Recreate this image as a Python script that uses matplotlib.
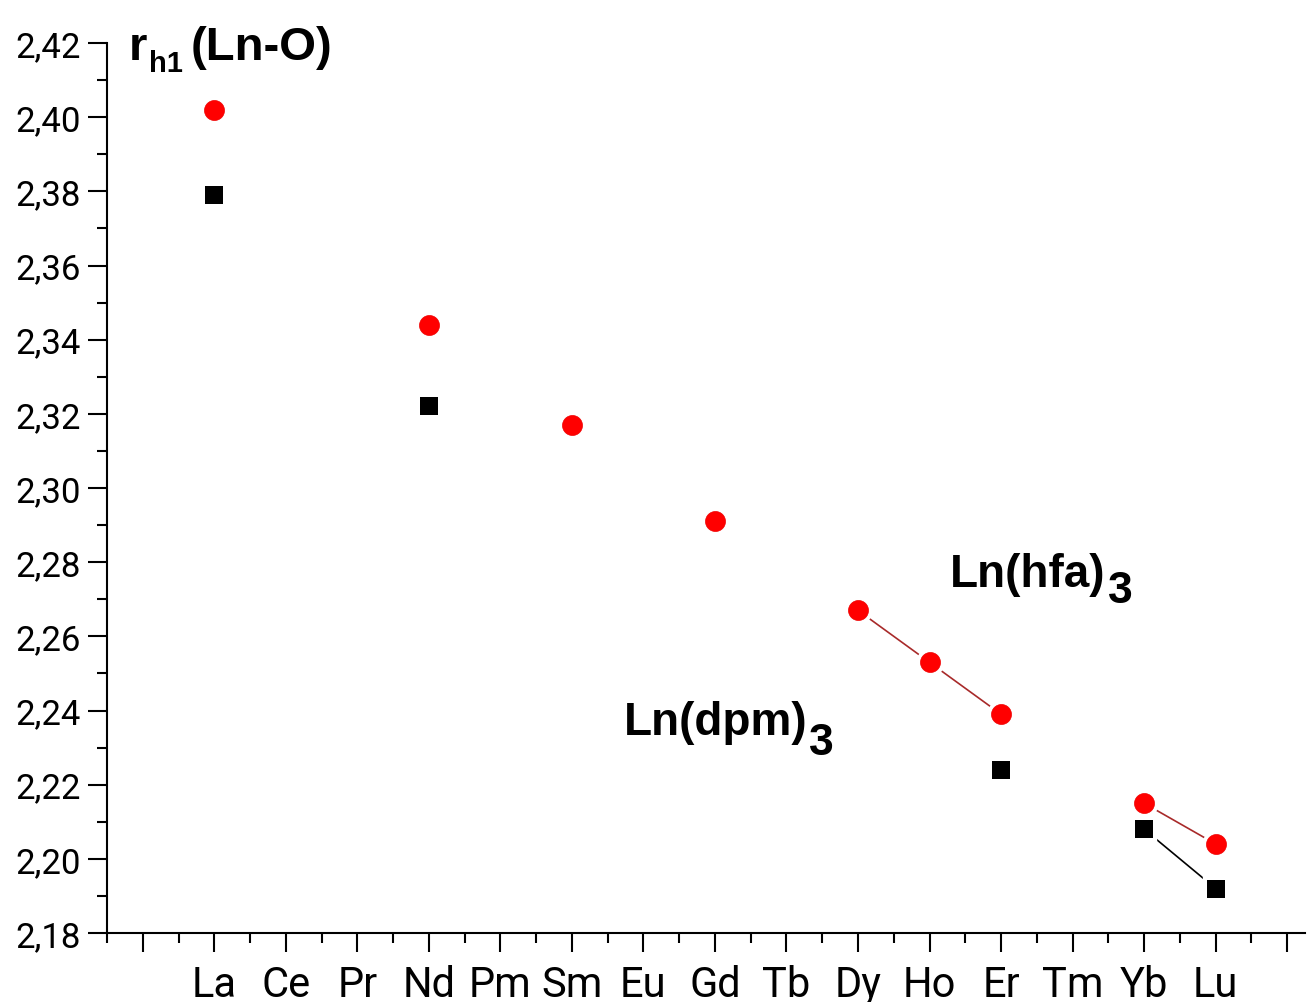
import numpy as np
import matplotlib
matplotlib.use("Agg")
import matplotlib.pyplot as plt
from matplotlib.ticker import FixedLocator, FixedFormatter, MultipleLocator, FuncFormatter

# Lanthanide series and Ln-O distances (Å)
elements = ['La', 'Ce', 'Pr', 'Nd', 'Pm', 'Sm', 'Eu', 'Gd', 'Tb', 'Dy', 'Ho', 'Er', 'Tm', 'Yb', 'Lu']
nan = np.nan
r_hfa = [2.402, nan, nan, 2.344, nan, 2.317, nan, 2.291, nan, 2.267, 2.253, 2.239, nan, 2.215, 2.204]
r_dpm = [2.379, nan, nan, 2.322, nan, nan, nan, nan, nan, nan, nan, 2.224, nan, 2.208, 2.192]
y_min, y_max = 2.18, 2.42

W, H = 1309, 1003
fig = plt.figure(figsize=(W / 100, H / 100), dpi=100)
ax = fig.add_axes([107 / W, 1 - 934 / H, (1305 - 107) / W, (934 - 44) / H])

x = np.arange(1, len(elements) + 1)

# connecting lines (broken where a value is missing)
ax.plot(x, r_hfa, color='#a82a2a', lw=1.2, zorder=2, solid_capstyle='butt')
ax.plot(x, r_dpm, color='black', lw=1.2, zorder=2, solid_capstyle='butt')
# white halos leave a small gap between lines and symbols
ax.plot(x, r_hfa, ls='none', marker='o', ms=14.4, mfc='white', mec='white', mew=6, zorder=3)
ax.plot(x, r_dpm, ls='none', marker='s', ms=13, mfc='white', mec='white', mew=6, zorder=3)
ax.plot(x, r_hfa, ls='none', marker='o', ms=14.4, mfc='#ff0000', mec='#ee0000', mew=0.5, zorder=4)
ax.plot(x, r_dpm, ls='none', marker='s', ms=13, mfc='black', mec='black', mew=0, zorder=4)

ax.set_xlim(-0.5, 16.25)
ax.set_ylim(y_min, y_max)

ax.xaxis.set_major_locator(FixedLocator(list(range(0, 17))))
ax.xaxis.set_major_formatter(FixedFormatter([''] + elements + ['']))
ax.xaxis.set_minor_locator(FixedLocator(list(np.arange(-0.5, 16.5, 1.0))))
ax.yaxis.set_major_locator(MultipleLocator(0.02))
ax.yaxis.set_minor_locator(MultipleLocator(0.01))
ax.yaxis.set_major_formatter(FuncFormatter(lambda v, p: f'{v:.2f}'.replace('.', ',')))

for s in ('top', 'right'):
    ax.spines[s].set_visible(False)
for s in ('left', 'bottom'):
    ax.spines[s].set_linewidth(1.5)

ax.tick_params(which='major', direction='out', length=14, width=1.5)
ax.tick_params(which='minor', direction='out', length=7, width=1.5)
ax.tick_params(axis='x', which='major', labelsize=30, pad=8)
ax.tick_params(axis='y', which='major', labelsize=25, pad=5)
for lab in ax.get_xticklabels() + ax.get_yticklabels():
    lab.set_family('Roboto')

bold = dict(family='Liberation Sans', fontweight='bold', va='baseline', ha='left', color='black')
renderer = fig.canvas.get_renderer()


def chained(x0, base, parts):
    """Place text pieces one after another, in pixel units from the top-left."""
    xp = x0
    for s, size, dy, gap in parts:
        t = fig.text(xp / W, 1 - (base + dy) / H, s, fontsize=size, **bold)
        bb = t.get_window_extent(renderer)
        xp = bb.x1 + gap


# axis title
chained(129, 60, [('r', 34, 0, 2), ('h1', 21, 12, 7), ('(Ln-O)', 34, 0, 0)])

# series labels
chained(950, 587, [('Ln(hfa)', 33, 0, 2), ('3', 32, 16, 0)])
chained(624, 735, [('Ln(dpm)', 33, 0, 1), ('3', 32, 20, 0)])

fig.savefig('out.png', dpi=100, facecolor='white')
